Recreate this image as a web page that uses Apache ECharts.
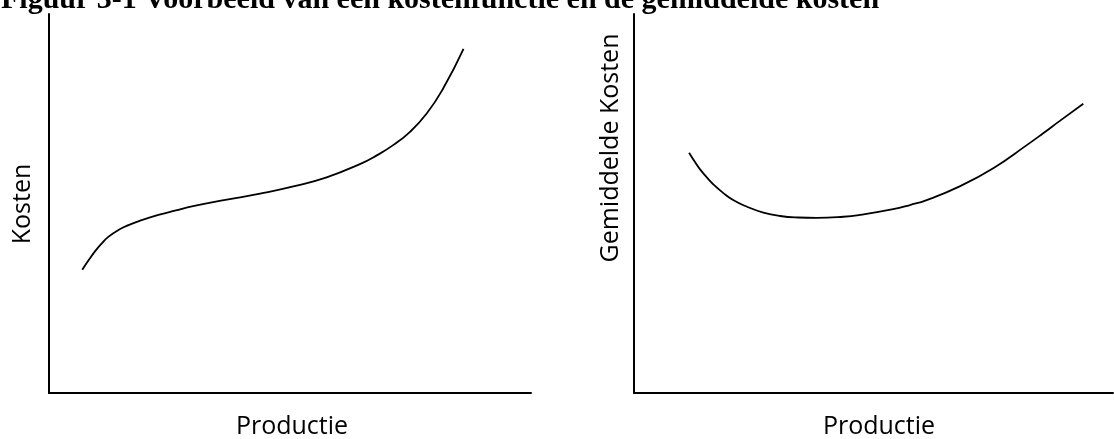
<!DOCTYPE html>
<html>
<head>
<meta charset="utf-8">
<script src="https://cdn.jsdelivr.net/npm/echarts@6/dist/echarts.min.js"></script>
<style>
html,body{margin:0;padding:0;background:#fff;}
#chart{width:1114px;height:439px;}
</style>
</head>
<body>
<div id="chart"></div>
<script>
// Data (schematic curves, in axis units 0..100)
const titleText = 'Figuur 3-1 Voorbeeld van een kostenfunctie en de gemiddelde kosten';
const xAxisName = 'Productie';
const leftYName = 'Kosten';
const rightYName = 'Gemiddelde Kosten';

const kostenX = [6.9, 8.2, 9.5, 10.9, 12.3, 14.4, 16.5, 19.2, 22.7, 26.1, 29.9, 36.9, 43.8, 50.7, 57.6, 64.5, 68.0, 71.4, 74.9, 78.4, 81.8, 86.0];
const kostenY = [32.5, 35.0, 37.3, 39.4, 41.2, 43.0, 44.3, 45.6, 47.0, 48.1, 49.3, 51.0, 52.6, 54.5, 56.9, 60.4, 62.7, 65.4, 68.9, 73.8, 80.4, 90.8];

const gemX = [11.5, 12.7, 13.8, 15.2, 16.6, 18.6, 20.7, 23.5, 27.0, 30.5, 34.3, 38.1, 43.7, 47.2, 54.1, 57.6, 61.1, 68.1, 75.0, 82.0, 85.5, 88.9, 93.8];
const gemY = [63.4, 61.0, 59.0, 56.9, 55.0, 52.8, 50.9, 49.2, 47.6, 46.7, 46.3, 46.2, 46.5, 47.0, 48.5, 49.6, 50.9, 54.6, 59.3, 65.4, 68.6, 71.8, 76.3];

const pair = (xs, ys) => xs.map((x, i) => [x, ys[i]]);

const chart = echarts.init(document.getElementById('chart'), null, {renderer: 'canvas'});

const axisLine = {show: true, lineStyle: {color: '#000', width: 2}};
function xAx(gi) {
  return {type: 'value', gridIndex: gi, min: 0, max: 100, axisLine: axisLine,
    axisTick: {show: false}, axisLabel: {show: false}, splitLine: {show: false}};
}
function yAx(gi) {
  return {type: 'value', gridIndex: gi, min: 0, max: 100, axisLine: axisLine,
    axisTick: {show: false}, axisLabel: {show: false}, splitLine: {show: false}};
}
const labelFont = {fontFamily: 'Open Sans', fontSize: 25, fill: '#000'};

chart.setOption({
  backgroundColor: '#fff',
  animation: false,
  grid: [
    {left: 49, right: 583, top: 14, bottom: 46},
    {left: 634, right: 1, top: 14, bottom: 46}
  ],
  xAxis: [xAx(0), xAx(1)],
  yAxis: [yAx(0), yAx(1)],
  series: [
    {type: 'line', xAxisIndex: 0, yAxisIndex: 0, data: pair(kostenX, kostenY), smooth: true,
     showSymbol: false, lineStyle: {color: '#000', width: 1.8}},
    {type: 'line', xAxisIndex: 1, yAxisIndex: 1, data: pair(gemX, gemY), smooth: true,
     showSymbol: false, lineStyle: {color: '#000', width: 1.8}}
  ],
  graphic: [
    {type: 'text', left: 1, top: -15, style: {text: titleText, fontFamily: 'Liberation Serif', fontWeight: 'bold', fontSize: 30, fill: '#000'}},
    {type: 'text', x: 292, y: 427, style: Object.assign({text: xAxisName, align: 'center', verticalAlign: 'middle'}, labelFont)},
    {type: 'text', x: 879, y: 427, style: Object.assign({text: xAxisName, align: 'center', verticalAlign: 'middle'}, labelFont)},
    {type: 'text', x: 23, y: 204, rotation: Math.PI / 2, style: Object.assign({text: leftYName, align: 'center', verticalAlign: 'middle'}, labelFont)},
    {type: 'text', x: 611, y: 148, rotation: Math.PI / 2, style: Object.assign({text: rightYName, align: 'center', verticalAlign: 'middle'}, labelFont)}
  ]
});
</script>
</body>
</html>
